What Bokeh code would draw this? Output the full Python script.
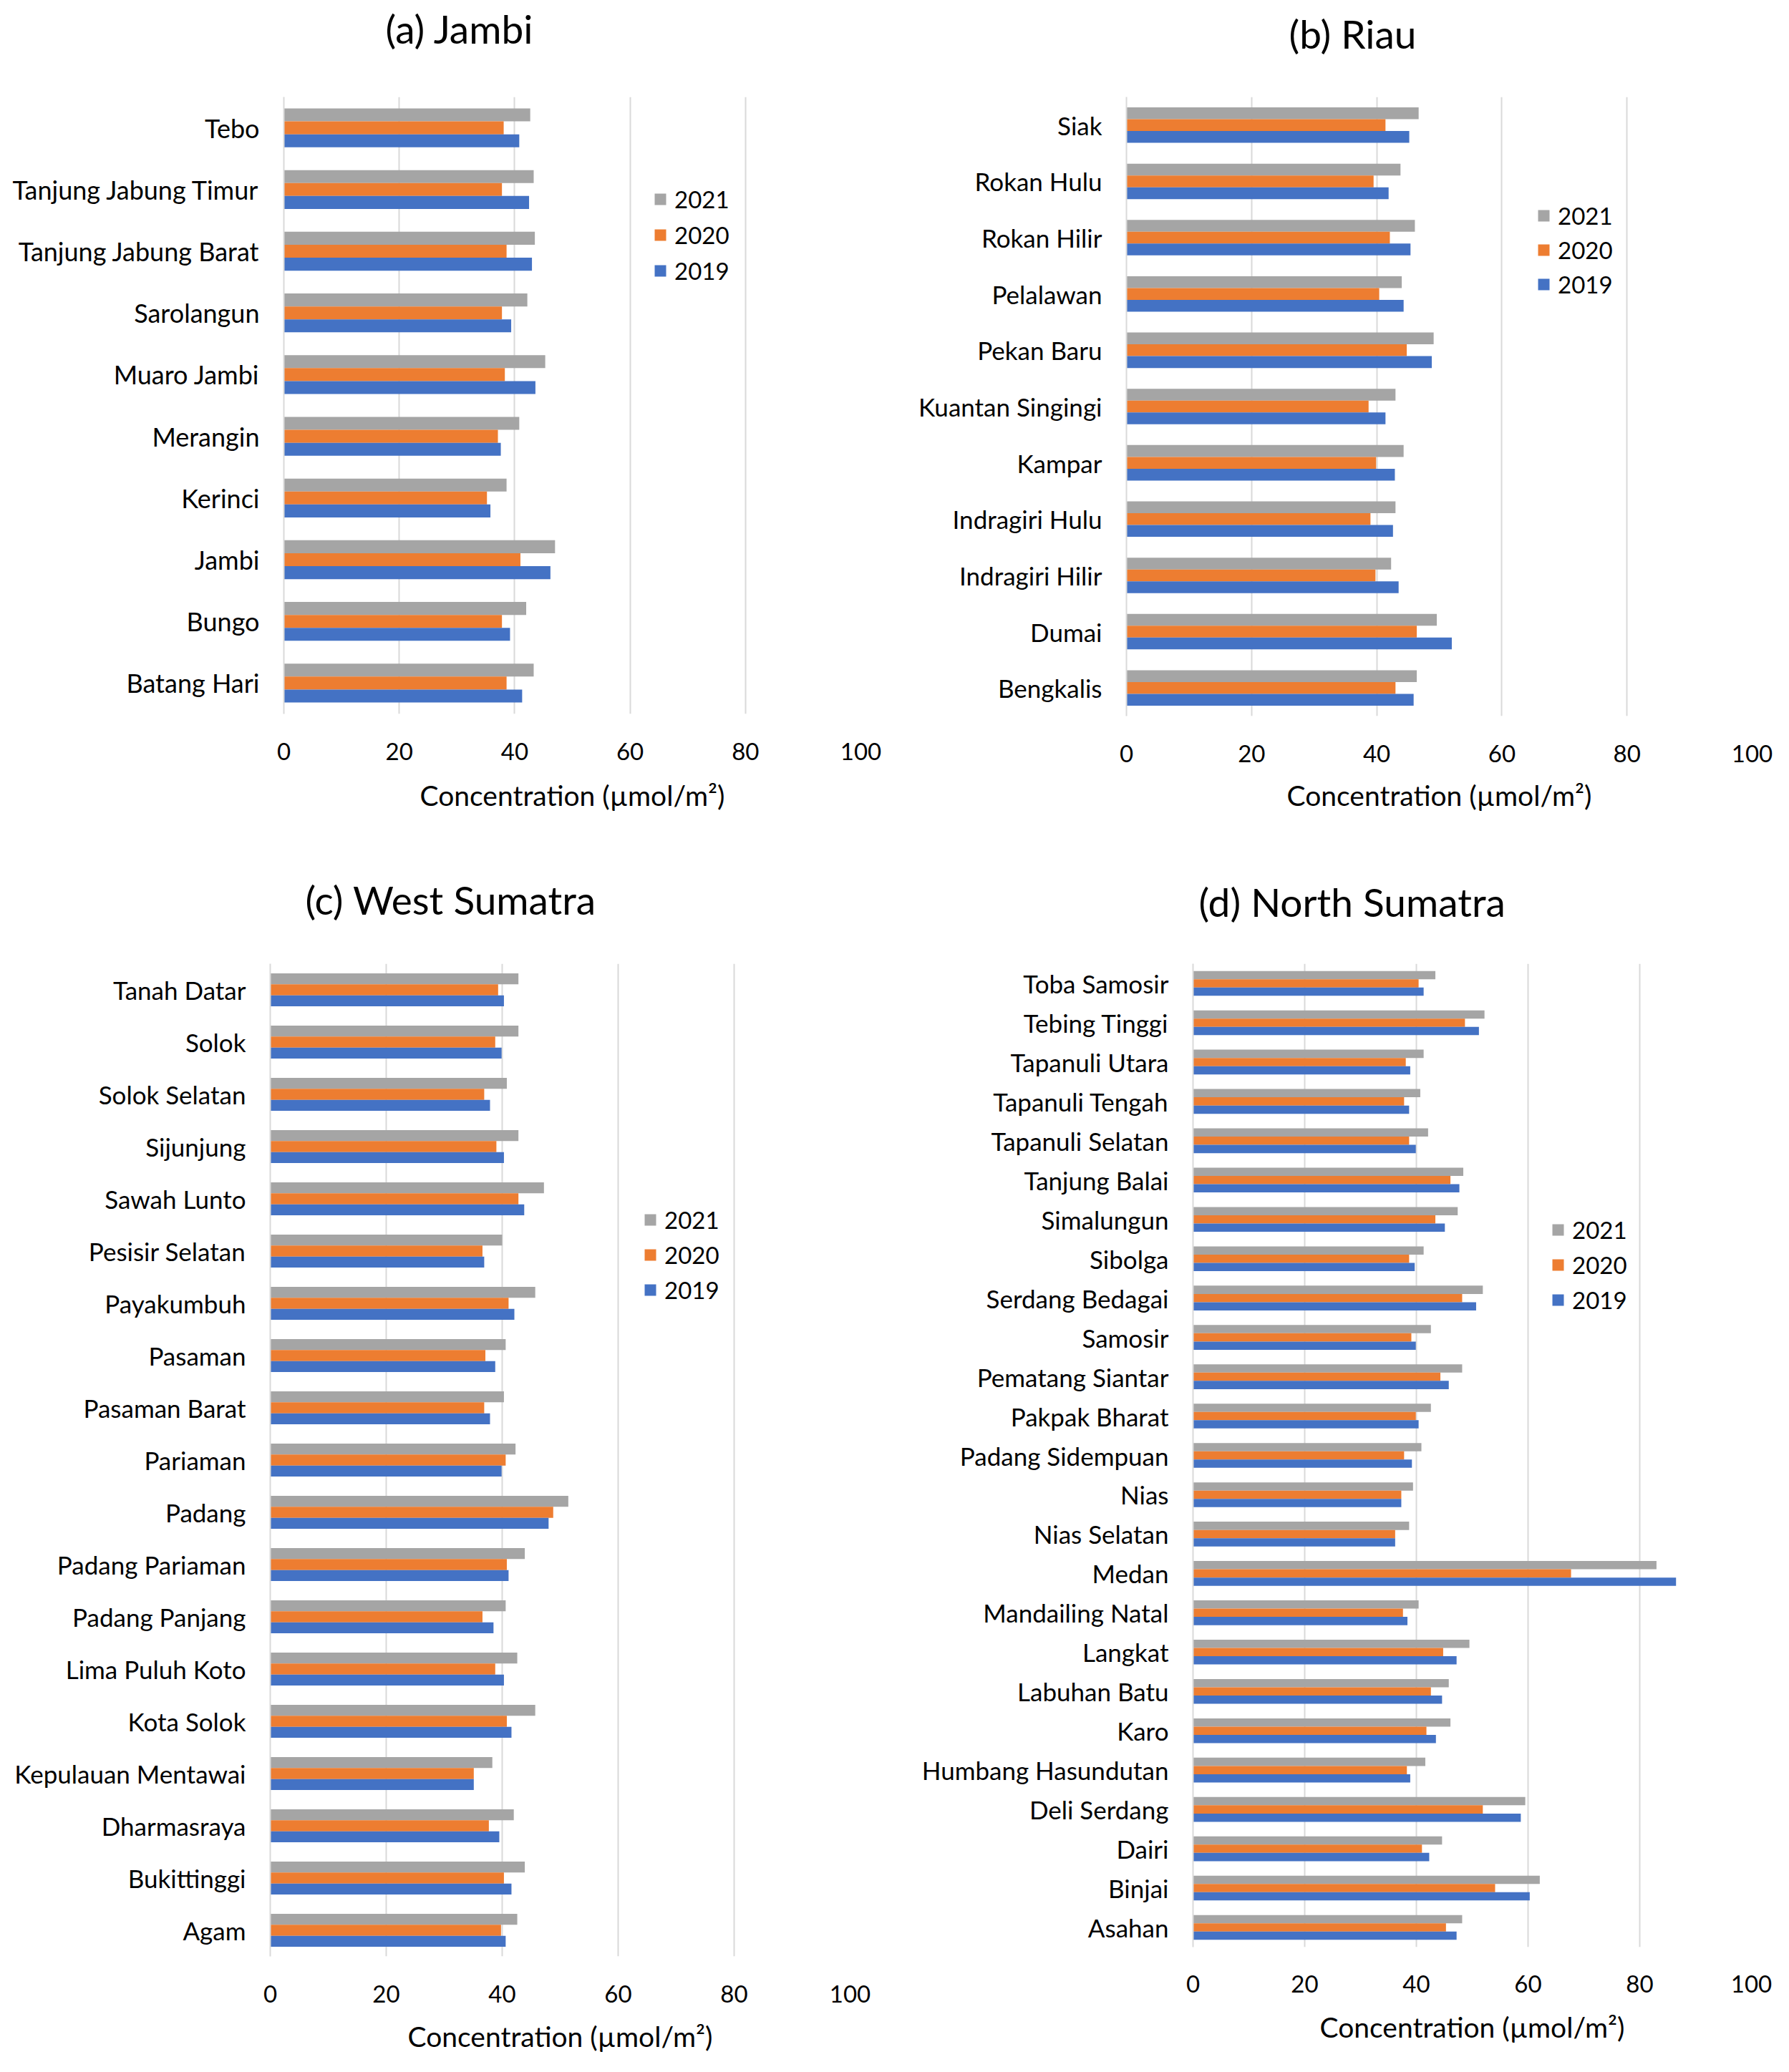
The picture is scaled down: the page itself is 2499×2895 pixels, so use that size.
from bokeh.plotting import figure
from bokeh.models import (FactorRange, Range1d, ColumnDataSource, Legend, LegendItem,
                          FixedTicker, Title)
from bokeh.transform import dodge
from bokeh.layouts import row, column
from bokeh.embed import file_html
from bokeh.resources import INLINE

years = ["2021", "2020", "2019"]
colors = {"2021": "#A5A5A5", "2020": "#ED7D31", "2019": "#4472C4"}
x_ticks = [0, 20, 40, 60, 80, 100]
x_label = "Concentration (µmol/m²)"

# categories listed bottom -> top
jambi_regions = ["Batang Hari", "Bungo", "Jambi", "Kerinci", "Merangin", "Muaro Jambi",
                 "Sarolangun", "Tanjung Jabung Barat", "Tanjung Jabung Timur", "Tebo"]
jambi_2019 = [41.3, 39.2, 46.2, 35.8, 37.6, 43.6, 39.4, 43.0, 42.5, 40.8]
jambi_2020 = [38.6, 37.8, 41.0, 35.2, 37.1, 38.3, 37.8, 38.6, 37.8, 38.1]
jambi_2021 = [43.3, 42.0, 47.0, 38.6, 40.8, 45.3, 42.2, 43.5, 43.3, 42.7]

riau_regions = ["Bengkalis", "Dumai", "Indragiri Hilir", "Indragiri Hulu", "Kampar",
                "Kuantan Singingi", "Pekan Baru", "Pelalawan", "Rokan Hilir", "Rokan Hulu", "Siak"]
riau_2019 = [45.9, 52.0, 43.5, 42.6, 42.9, 41.4, 48.8, 44.3, 45.4, 41.9, 45.2]
riau_2020 = [43.0, 46.4, 39.8, 39.0, 39.9, 38.7, 44.8, 40.4, 42.1, 39.5, 41.4]
riau_2021 = [46.4, 49.6, 42.3, 43.0, 44.3, 43.0, 49.1, 44.0, 46.1, 43.8, 46.7]

wsum_regions = ["Agam", "Bukittinggi", "Dharmasraya", "Kepulauan Mentawai", "Kota Solok",
                "Lima Puluh Koto", "Padang Panjang", "Padang Pariaman", "Padang", "Pariaman",
                "Pasaman Barat", "Pasaman", "Payakumbuh", "Pesisir Selatan", "Sawah Lunto",
                "Sijunjung", "Solok Selatan", "Solok", "Tanah Datar"]
wsum_2019 = [40.6, 41.6, 39.5, 35.1, 41.6, 40.3, 38.5, 41.1, 48.0, 39.9,
             37.9, 38.8, 42.1, 36.9, 43.8, 40.3, 37.9, 39.9, 40.3]
wsum_2020 = [39.8, 40.3, 37.7, 35.1, 40.8, 38.8, 36.6, 40.8, 48.8, 40.6,
             36.9, 37.1, 41.1, 36.6, 42.8, 39.0, 36.9, 38.8, 39.3]
wsum_2021 = [42.6, 43.9, 42.0, 38.3, 45.7, 42.6, 40.6, 43.9, 51.4, 42.3,
             40.3, 40.6, 45.7, 40.0, 47.2, 42.8, 40.8, 42.8, 42.8]

nsum_regions = ["Asahan", "Binjai", "Dairi", "Deli Serdang", "Humbang Hasundutan", "Karo",
                "Labuhan Batu", "Langkat", "Mandailing Natal", "Medan", "Nias Selatan", "Nias",
                "Padang Sidempuan", "Pakpak Bharat", "Pematang Siantar", "Samosir",
                "Serdang Bedagai", "Sibolga", "Simalungun", "Tanjung Balai", "Tapanuli Selatan",
                "Tapanuli Tengah", "Tapanuli Utara", "Tebing Tinggi", "Toba Samosir"]
nsum_2019 = [47.2, 60.3, 42.3, 58.7, 38.9, 43.5, 44.6, 47.2, 38.4, 86.5, 36.2, 37.3, 39.2,
             40.4, 45.8, 39.9, 50.7, 39.7, 45.1, 47.7, 39.9, 38.7, 38.9, 51.2, 41.3]
nsum_2020 = [45.3, 54.1, 41.0, 51.9, 38.3, 41.8, 42.6, 44.8, 37.6, 67.7, 36.2, 37.3, 37.8,
             39.9, 44.3, 39.1, 48.2, 38.7, 43.4, 46.1, 38.7, 37.8, 38.1, 48.7, 40.4]
nsum_2021 = [48.2, 62.1, 44.6, 59.5, 41.6, 46.1, 45.8, 49.5, 40.4, 83.0, 38.7, 39.4, 40.9,
             42.6, 48.2, 42.6, 51.9, 41.3, 47.4, 48.4, 42.1, 40.7, 41.3, 52.2, 43.4]

FONT = "Lato"
TXT = "#000000"


def make_panel(title, cats, v19, v20, v21, g):
    src = ColumnDataSource(dict(cat=cats, y2019=v19, y2020=v20, y2021=v21))
    p = figure(frame_width=g["fw"], frame_height=g["fh"], y_range=FactorRange(factors=cats),
               x_range=Range1d(0, 100), output_backend="svg", toolbar_location=None,
               title=None,
               min_border_left=g["l"], min_border_right=g["r"],
               min_border_top=g["t"], min_border_bottom=g["b"])
    p.outline_line_color = None
    p.background_fill_color = "white"
    bw = 0.21
    offs = {"2021": bw, "2020": 0.0, "2019": -bw}
    rends = {}
    for yr in years:
        rends[yr] = p.hbar(y=dodge("cat", offs[yr], range=p.y_range), right="y" + yr, left=0,
                           height=bw, source=src, fill_color=colors[yr], line_color=None)

    # spacer (closest to the frame) then the visible title above it
    p.add_layout(Title(text=" ", text_font_size="1px", standoff=g["sp"], text_color="white"),
                 "above")
    p.add_layout(Title(text=title, align="left", offset=g["toff"], standoff=0,
                       text_font=FONT, text_font_size="55px", text_font_style="normal",
                       text_line_height=1.0, text_color=TXT), "above")

    p.xaxis.ticker = FixedTicker(ticks=x_ticks)
    p.xgrid.ticker = FixedTicker(ticks=x_ticks)
    p.xgrid.grid_line_color = "#d9d9d9"
    p.xgrid.grid_line_width = 2
    p.ygrid.grid_line_color = None
    p.xaxis.axis_line_color = None
    p.xaxis.major_tick_line_color = None
    p.xaxis.minor_tick_line_color = None
    p.xaxis.major_tick_out = 0
    p.xaxis.major_tick_in = 0
    p.xaxis.major_label_text_font = FONT
    p.xaxis.major_label_text_font_size = "33px"
    p.xaxis.major_label_text_color = TXT
    p.xaxis.major_label_standoff = g["xls"]
    # x-axis caption, centred under the frame (placed below the tick labels)
    p.add_layout(Title(text=x_label, align="center", standoff=g["als"], text_font=FONT,
                       text_font_size="39px", text_font_style="normal",
                       text_line_height=1.0, text_color=TXT), "below")

    p.yaxis.axis_line_color = "#d9d9d9"
    p.yaxis.axis_line_width = 2
    p.yaxis.major_tick_line_color = None
    p.yaxis.minor_tick_line_color = None
    p.yaxis.major_tick_out = 0
    p.yaxis.major_tick_in = 0
    p.yaxis.major_label_text_font = FONT
    p.yaxis.major_label_text_font_size = g["yfs"]
    p.yaxis.major_label_text_color = TXT
    p.yaxis.major_label_standoff = 34

    legend = Legend(items=[LegendItem(label=yr, renderers=[rends[yr]]) for yr in years],
                    location=(g["lx"], g["ly"]))
    legend.border_line_color = None
    legend.background_fill_alpha = 0
    legend.padding = 0
    legend.margin = 0
    legend.spacing = 0
    legend.glyph_width = 20
    legend.glyph_height = 20
    legend.label_height = g["lh"]
    legend.label_standoff = 10
    legend.label_text_font = FONT
    legend.label_text_font_size = "33px"
    legend.label_text_color = TXT
    p.add_layout(legend)
    return p


# plots in one row share top/bottom border sizes
# frame geometry: a 396..1202 x 135..997 ; b 1573..2447 x 135..1000
#                 c 377..1187 x 1346..2733 ; d 1666..2446 x 1346..2720
ga = dict(fw=806, fh=862, l=396, r=40, t=135, b=210, xls=40, als=43, yfs="36px",
          sp=60, toff=142, lx=516, ly=594, lh=50)
gb = dict(fw=874, fh=865, l=331, r=45, t=135, b=210, xls=40, als=37, yfs="35px",
          sp=53, toff=227, lx=573, ly=579, lh=48)
gc = dict(fw=810, fh=1387, l=377, r=40, t=136, b=160, xls=40, als=39, yfs="35px",
          sp=54, toff=49, lx=521, ly=907, lh=49)
gd = dict(fw=780, fh=1374, l=439, r=45, t=136, b=160, xls=39, als=41, yfs="35px",
          sp=51, toff=8, lx=500, ly=880, lh=49)

pa = make_panel("(a) Jambi", jambi_regions, jambi_2019, jambi_2020, jambi_2021, ga)
pb = make_panel("(b) Riau", riau_regions, riau_2019, riau_2020, riau_2021, gb)
pc = make_panel("(c) West Sumatra", wsum_regions, wsum_2019, wsum_2020, wsum_2021, gc)
pd = make_panel("(d) North Sumatra", nsum_regions, nsum_2019, nsum_2020, nsum_2021, gd)

layout = column(row(pa, pb), row(pc, pd))
open("out.html", "w").write(file_html(layout, INLINE))
